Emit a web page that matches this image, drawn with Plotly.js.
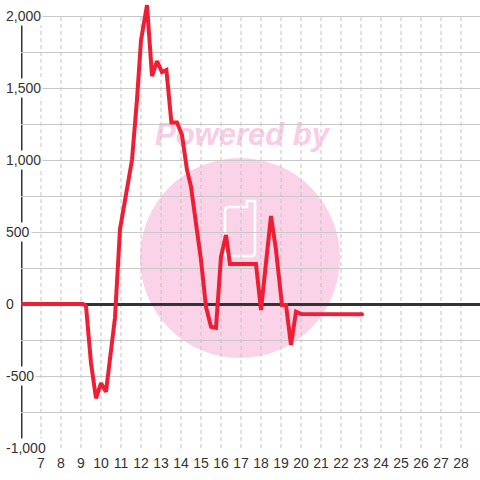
<!DOCTYPE html>
<html>
<head>
<meta charset="utf-8">
<script src="https://cdn.plot.ly/plotly-3.0.1.min.js"></script>
<style>
html,body{margin:0;padding:0;background:#fff;}
#chart{width:480px;height:480px;}
.js-line{stroke-linecap:round;}
</style>
</head>
<body>
<div id="chart"></div>
<script>
// ---- data ----
const xValues = [6, 9.1, 9.25, 9.5, 9.75, 10.0, 10.25, 10.5, 10.7, 10.95, 11.25, 11.55, 11.8, 12.0, 12.3,
  12.55, 12.8, 13.05, 13.27, 13.52, 13.8, 14.05, 14.3, 14.5, 15.0, 15.25, 15.5, 15.75, 16.0, 16.25,
  16.45, 17.75, 18.0, 18.5, 18.75, 19.05, 19.25, 19.5, 19.75, 20.0, 23.05];
const yValues = [0, 0, -15, -410, -655, -550, -610, -350, -95, 520, 760, 1000, 1420, 1830, 2076,
  1583, 1687, 1611, 1625, 1260, 1260, 1174, 931, 815, 306, -20, -158, -165, 328, 479,
  278, 278, -42, 611, 375, -7, -7, -285, -53, -70, -72];
const xTickVals = [7, 8, 9, 10, 11, 12, 13, 14, 15, 16, 17, 18, 19, 20, 21, 22, 23, 24, 25, 26, 27, 28];
const yTickVals = [-1000, -500, 0, 500, 1000, 1500, 2000];
const yTickText = ['-1,000', '-500', '0', '500', '1,000', '1,500', '2,000'];

// ---- watermark (background image) ----
const wm = "<svg xmlns='http://www.w3.org/2000/svg' width='480' height='480' viewBox='0 0 480 480'>" +
  "<circle cx='240' cy='258' r='100' fill='#fad3e9'/>" +
  "<text x='242' y='145' text-anchor='middle' font-family='Liberation Sans, Arial, sans-serif' font-weight='bold' font-style='italic' font-size='31' fill='#f9cde5'>Powered by</text>" +
  "<path d='M229 207 H247 V201 H255 V252 Q255 256 251 256 H229 Q225 256 225 252 V211 Q225 207 229 207 Z' fill='none' stroke='#ffffff' stroke-width='2.5'/>" +
  "</svg>";
const wmSrc = 'data:image/svg+xml;charset=utf-8,' + encodeURIComponent(wm);

const L = 21, T = 0, W = 480, H = 480, B = 32;
const plotW = W - L, plotH = H - T - B;

const shapes = [];
xTickVals.forEach(v => shapes.push({
  type: 'line', xref: 'x', yref: 'y', x0: v, x1: v, y0: yTickVals[0], y1: yTickVals[yTickVals.length - 1],
  line: {color: '#c4c4c4', width: 1, dash: '4px,3px'}, layer: 'below'
}));
shapes.push({
  type: 'line', xref: 'x', yref: 'y', x0: 6, x1: 6, y0: yTickVals[0], y1: yTickVals[yTickVals.length - 1],
  line: {color: '#333333', width: 3}, layer: 'below'
});

const annotations = yTickVals.map((v, i) => ({
  xref: 'paper', yref: 'y', x: 0, y: v, xanchor: 'left', yanchor: 'middle', xshift: -17,
  text: yTickText[i], showarrow: false, bgcolor: '#ffffff', borderpad: 1,
  font: {size: 14, color: '#333333', family: 'Liberation Sans, Arial, sans-serif'}
}));

const trace = {
  type: 'scatter', mode: 'lines', x: xValues, y: yValues,
  line: {color: '#ee1f35', width: 4}, hoverinfo: 'none'
};

const layout = {
  width: W, height: H,
  margin: {l: L, r: 0, t: T, b: B, pad: 0},
  paper_bgcolor: '#ffffff', plot_bgcolor: '#ffffff',
  font: {family: 'Liberation Sans, Arial, sans-serif', size: 14, color: '#333333'},
  showlegend: false,
  xaxis: {
    range: [6, 6 + plotW / 20], tickvals: xTickVals, ticktext: xTickVals.map(String),
    showgrid: false, zeroline: false, showline: false, ticks: '',
    ticklabelstandoff: 5,
    tickfont: {size: 14, color: '#333333'}, fixedrange: true
  },
  yaxis: {
    range: [-1000, 2000 + 16 * 500 / 72], tick0: 0, dtick: 250,
    showgrid: true, gridcolor: '#c8c8c8', gridwidth: 1,
    zeroline: true, zerolinecolor: '#333333', zerolinewidth: 3,
    showticklabels: false, ticks: '', showline: false, fixedrange: true
  },
  images: [{
    source: wmSrc, xref: 'paper', yref: 'paper',
    x: -L / plotW, y: 1 + T / plotH, sizex: W / plotW, sizey: H / plotH,
    xanchor: 'left', yanchor: 'top', sizing: 'stretch', layer: 'below'
  }],
  shapes: shapes,
  annotations: annotations
};

Plotly.newPlot('chart', [trace], layout, {displayModeBar: false, staticPlot: true});
</script>
</body>
</html>
